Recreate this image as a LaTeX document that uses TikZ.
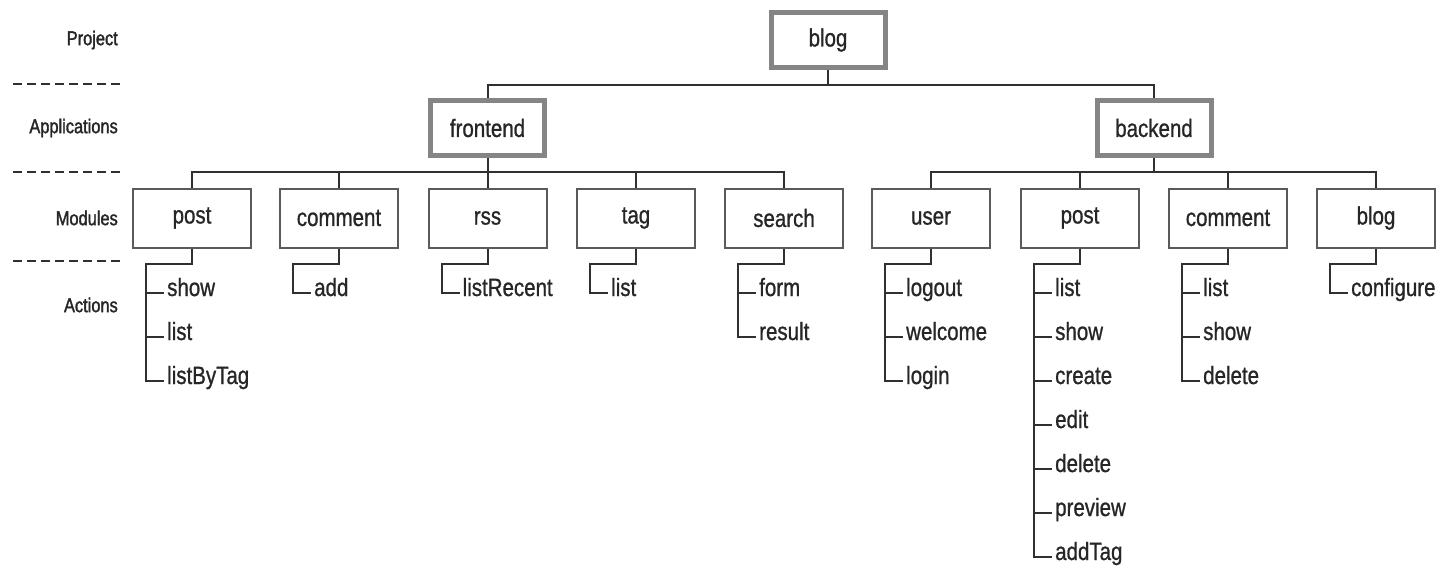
\documentclass[tikz,border=0pt]{standalone}
\usepackage{fontspec}
\setmainfont[FakeStretch=0.82, FakeBold=0.9]{Liberation Sans}
\newfontfamily\lblfont[FakeStretch=0.82, FakeBold=1.6]{Liberation Sans}
\usetikzlibrary{calc}
\definecolor{txt}{HTML}{262626}
\definecolor{conncol}{HTML}{303030}
\definecolor{boxcol}{HTML}{5A5A5A}
\definecolor{thickcol}{HTML}{858585}
\tikzset{
  conn/.style={draw=conncol, line width=2pt},
  appbox/.style={draw=thickcol, line width=5pt, minimum width=114pt, minimum height=55pt, inner sep=0pt,
    font=\fontsize{25}{30}\selectfont, text=txt},
  modbox/.style={draw=boxcol, line width=2pt, minimum width=118pt, minimum height=59pt, inner sep=0pt,
    font=\fontsize{25}{30}\selectfont, text=txt},
  act/.style={anchor=base west, inner sep=3pt, text height=12pt, text depth=6pt,
    font=\fontsize{25}{30}\selectfont, text=txt},
  levlabel/.style={anchor=east, inner sep=0pt, font=\lblfont\fontsize{20}{24}\selectfont, text=txt},
  levsep/.style={draw=conncol, line width=2pt, dash pattern=on 9pt off 5pt},
}
\newcommand\mkacts[2]{%
  \coordinate (#1-rail) at ($(#1.south west)+(14,0)$);
  \foreach \t [count=\i] in {#2} {
    \node[act] (#1-a\i) at ($(#1.south west)+(32,{47.5+44*(\i-1)})$) {\t};
    \draw[conn] (#1.south) -- ++(0,15) -| (#1-rail |- #1-a\i.west) -- (#1-a\i.west);
  }%
}
\begin{document}
\begin{tikzpicture}[x=1pt,y=-1pt]
\useasboundingbox (0,0) rectangle (1440,565);
% level labels
\node[levlabel] (lproj) at (118,40) {Project};
\node[levlabel] (lapp) at (118,128) {Applications};
\node[levlabel] (lmod) at (118,218) {Modules};
\node[levlabel] (lact) at (118,305) {Actions};
\draw[levsep] (13,84) -- (123,84);
\draw[levsep] (13,172) -- (123,172);
\draw[levsep] (13,261) -- (123,261);
% project and applications
\node[appbox] (blog) at (828,40) {blog};
\node[appbox] (front) at (487.5,128) {frontend};
\node[appbox] (back) at (1154,128) {backend};
\coordinate (topbus) at (828,85);
\draw[conn] (blog.south) -- (topbus);
\draw[conn] (front.north) |- (topbus) -| (back.north);
% frontend modules
\node[modbox] (fpost) at (192,218) {post};
\node[modbox] (fcomment) at (339,218) {comment};
\node[modbox] (frss) at (487.5,218) {rss};
\node[modbox] (ftag) at (636,218) {tag};
\node[modbox] (fsearch) at (784,218) {search};
\coordinate (fbus) at (487.5,172);
\draw[conn] (front.south) -- (fbus);
\draw[conn] (fpost.north) |- (fbus) -| (fsearch.north);
\draw[conn] (fcomment.north) -- (fcomment.north |- fbus);
\draw[conn] (frss.north) -- (frss.north |- fbus);
\draw[conn] (ftag.north) -- (ftag.north |- fbus);
% backend modules
\node[modbox] (buser) at (931,218) {user};
\node[modbox] (bpost) at (1080,218) {post};
\node[modbox] (bcomment) at (1228,218) {comment};
\node[modbox] (bblog) at (1376,218) {blog};
\coordinate (bbus) at (1154,172);
\draw[conn] (back.south) -- (bbus);
\draw[conn] (buser.north) |- (bbus) -| (bblog.north);
\draw[conn] (bpost.north) -- (bpost.north |- bbus);
\draw[conn] (bcomment.north) -- (bcomment.north |- bbus);
% actions
\mkacts{fpost}{show,list,listByTag}
\mkacts{fcomment}{add}
\mkacts{frss}{listRecent}
\mkacts{ftag}{list}
\mkacts{fsearch}{form,result}
\mkacts{buser}{logout,welcome,login}
\mkacts{bpost}{list,show,create,edit,delete,preview,addTag}
\mkacts{bcomment}{list,show,delete}
\mkacts{bblog}{configure}
\end{tikzpicture}
\end{document}
